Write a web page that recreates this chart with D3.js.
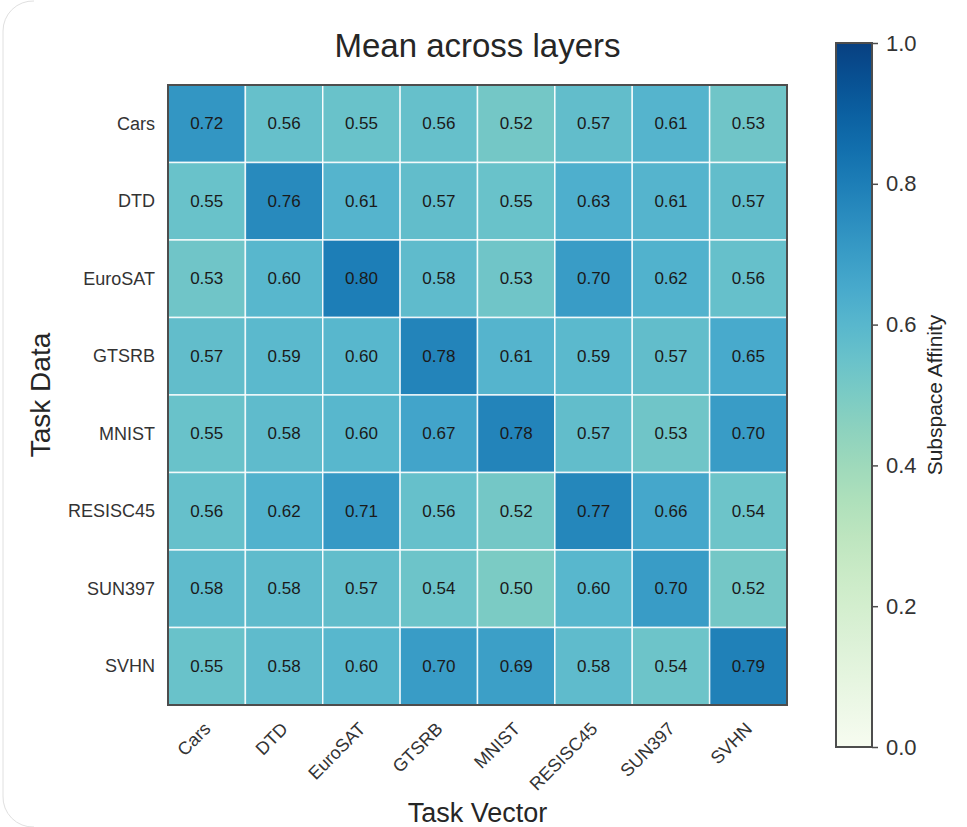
<!DOCTYPE html>
<html>
<head>
<meta charset="utf-8">
<script src="https://cdn.jsdelivr.net/npm/d3@7"></script>
<style>
  html, body { margin: 0; padding: 0; background: #ffffff; }
  svg { display: block; font-family: "Liberation Sans", Arial, Helvetica, sans-serif; }
</style>
</head>
<body>
<svg id="chart" width="967" height="827"></svg>
<script>
// Task data (rows) vs task vector (columns): mean subspace affinity across layers
const taskData = ["Cars", "DTD", "EuroSAT", "GTSRB", "MNIST", "RESISC45", "SUN397", "SVHN"];
const taskVector = ["Cars", "DTD", "EuroSAT", "GTSRB", "MNIST", "RESISC45", "SUN397", "SVHN"];
const affinity = [
  [0.72, 0.56, 0.55, 0.56, 0.52, 0.57, 0.61, 0.53],
  [0.55, 0.76, 0.61, 0.57, 0.55, 0.63, 0.61, 0.57],
  [0.53, 0.60, 0.80, 0.58, 0.53, 0.70, 0.62, 0.56],
  [0.57, 0.59, 0.60, 0.78, 0.61, 0.59, 0.57, 0.65],
  [0.55, 0.58, 0.60, 0.67, 0.78, 0.57, 0.53, 0.70],
  [0.56, 0.62, 0.71, 0.56, 0.52, 0.77, 0.66, 0.54],
  [0.58, 0.58, 0.57, 0.54, 0.50, 0.60, 0.70, 0.52],
  [0.55, 0.58, 0.60, 0.70, 0.69, 0.58, 0.54, 0.79]
];
const colorTicks = [0.0, 0.2, 0.4, 0.6, 0.8, 1.0];
const titleText = "Mean across layers";
const xTitle = "Task Vector";
const yTitle = "Task Data";
const colorTitle = "Subspace Affinity";

const svg = d3.select("#chart");

// faint card outline: only the rounded left side shows
svg.append("path")
  .attr("d", "M 34 1 A 30 30 0 0 0 3 31 L 3 796 A 30 30 0 0 0 34 827")
  .attr("fill", "none").attr("stroke", "#e0e0e0").attr("stroke-width", 1);

const plot = { left: 168, top: 85, right: 787, bottom: 705 };

const x = d3.scaleBand().domain(taskVector).range([plot.left, plot.right]);
const y = d3.scaleBand().domain(taskData).range([plot.top, plot.bottom]);
const color = d3.scaleSequential(d3.interpolateGnBu).domain([0, 1]);

const cells = [];
affinity.forEach((row, i) => row.forEach((v, j) => cells.push({ r: taskData[i], c: taskVector[j], v })));

const g = svg.append("g");
g.selectAll("rect.cell")
  .data(cells)
  .join("rect")
  .attr("class", "cell")
  .attr("x", d => x(d.c))
  .attr("y", d => y(d.r))
  .attr("width", x.bandwidth())
  .attr("height", y.bandwidth())
  .attr("fill", d => color(d.v))
  .attr("stroke", "#ffffff")
  .attr("stroke-opacity", 0.85)
  .attr("stroke-width", 1.5);

g.selectAll("text.val")
  .data(cells)
  .join("text")
  .attr("class", "val")
  .attr("x", d => x(d.c) + x.bandwidth() / 2)
  .attr("y", d => y(d.r) + y.bandwidth() / 2)
  .attr("text-anchor", "middle")
  .attr("dominant-baseline", "central")
  .attr("font-size", 17)
  .attr("fill", "#1a1a1a")
  .text(d => d.v.toFixed(2));

// heatmap frame
svg.append("rect")
  .attr("x", plot.left).attr("y", plot.top)
  .attr("width", plot.right - plot.left).attr("height", plot.bottom - plot.top)
  .attr("fill", "none").attr("stroke", "#4d4d4d").attr("stroke-width", 2);

// y tick labels
svg.append("g").selectAll("text")
  .data(taskData)
  .join("text")
  .attr("x", plot.left - 13)
  .attr("y", d => y(d) + y.bandwidth() / 2)
  .attr("text-anchor", "end")
  .attr("dominant-baseline", "central")
  .attr("font-size", 18)
  .attr("fill", "#333333")
  .text(d => d);

// x tick labels, rotated
svg.append("g").selectAll("text")
  .data(taskVector)
  .join("text")
  .attr("transform", d => `translate(${x(d) + x.bandwidth() / 2 + 5},${plot.bottom + 25}) rotate(-45)`)
  .attr("text-anchor", "end")
  .attr("font-size", 18)
  .attr("fill", "#333333")
  .text(d => d);

// titles
svg.append("text")
  .attr("x", (plot.left + plot.right) / 2).attr("y", 57)
  .attr("text-anchor", "middle")
  .attr("font-size", 33)
  .attr("fill", "#262626")
  .text(titleText);

svg.append("text")
  .attr("x", (plot.left + plot.right) / 2).attr("y", 822)
  .attr("text-anchor", "middle")
  .attr("font-size", 27)
  .attr("fill", "#262626")
  .text(xTitle);

svg.append("text")
  .attr("transform", `translate(50,${(plot.top + plot.bottom) / 2}) rotate(-90)`)
  .attr("text-anchor", "middle")
  .attr("font-size", 28)
  .attr("fill", "#262626")
  .text(yTitle);

// colorbar
const cb = { left: 836, right: 872, top: 43, bottom: 747 };
const cScale = d3.scaleLinear().domain([0, 1]).range([cb.bottom, cb.top]);
const defs = svg.append("defs");
const grad = defs.append("linearGradient")
  .attr("id", "cbgrad")
  .attr("x1", 0).attr("y1", 1).attr("x2", 0).attr("y2", 0);
d3.range(0, 1.0001, 0.05).forEach(t => {
  grad.append("stop").attr("offset", t).attr("stop-color", color(t));
});
svg.append("rect")
  .attr("x", cb.left).attr("y", cb.top)
  .attr("width", cb.right - cb.left).attr("height", cb.bottom - cb.top)
  .attr("fill", "url(#cbgrad)")
  .attr("stroke", "#4d4d4d").attr("stroke-width", 2);

const cAxis = svg.append("g").attr("transform", `translate(${cb.right},0)`)
  .call(d3.axisRight(cScale).tickValues(colorTicks).tickFormat(d3.format(".1f")).tickSize(6).tickPadding(8));
cAxis.select(".domain").remove();
cAxis.selectAll(".tick line").attr("stroke", "#4d4d4d").attr("stroke-width", 1.5);
cAxis.selectAll(".tick text")
  .attr("font-size", 22)
  .attr("font-family", "\"Liberation Sans\", Arial, sans-serif")
  .attr("fill", "#333333");

svg.append("text")
  .attr("transform", `translate(942,${(cb.top + cb.bottom) / 2}) rotate(-90)`)
  .attr("text-anchor", "middle")
  .attr("font-size", 21)
  .attr("fill", "#262626")
  .text(colorTitle);
</script>
</body>
</html>
